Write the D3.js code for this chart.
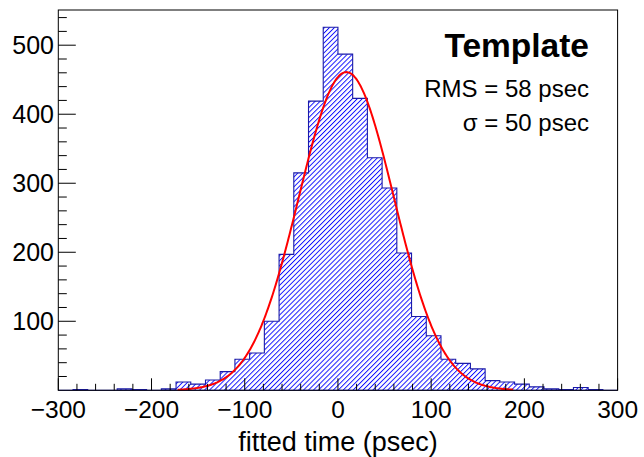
<!DOCTYPE html>
<html>
<head>
<meta charset="utf-8">
<script src="https://cdn.jsdelivr.net/npm/d3@7"></script>
<style>
  body { margin: 0; background: #fff; }
  svg { display: block; font-family: "Liberation Sans", Arial, sans-serif; }
</style>
</head>
<body>
<div id="chart"></div>
<script>
// histogram: 38 bins from -300 to 300 psec
var binLow = -300;
var binHigh = 300;
var counts = [0, 1, 0, 0, 2, 1, 0, 2, 12, 9,
  15, 27, 45, 54, 100, 197, 315, 419, 526, 487,
  423, 337, 293, 199, 107, 79, 45, 39, 31, 14,
  12, 9, 5, 2, 1, 4, 1, 0];

// gaussian fit
var fitAmp = 461;
var fitMean = 9;
var fitSigma = 51;
var fitRange = [-172, 188];

var xTicks = [-300, -200, -100, 0, 100, 200, 300];
var yTicks = [100, 200, 300, 400, 500];
var xTitle = "fitted time (psec)";
var titleText = "Template";
var infoLines = ["RMS = 58 psec", "\u03c3 = 50 psec"];

var width = 644;
var height = 457;
var padL = 58.3, padR = 617.6, padT = 10, padB = 390.3;

var svg = d3.select("#chart").append("svg")
  .attr("width", width)
  .attr("height", height);

var x = d3.scaleLinear().domain([binLow, binHigh]).range([padL, padR]);
var y = d3.scaleLinear().domain([0, 551]).range([padB, padT]);

// hatch pattern (ROOT style 3004-ish)
var defs = svg.append("defs");
defs.append("pattern")
  .attr("id", "hatch")
  .attr("patternUnits", "userSpaceOnUse")
  .attr("width", 3.5)
  .attr("height", 3.5)
  .attr("patternTransform", "rotate(45)")
  .append("line")
  .attr("x1", 0.5).attr("y1", 0)
  .attr("x2", 0.5).attr("y2", 3.5)
  .attr("stroke", "#0000ff")
  .attr("stroke-width", 0.9);

// histogram outline as steps
var bw = (binHigh - binLow) / counts.length;
var pts = [[binLow, 0]];
counts.forEach(function (c, i) {
  pts.push([binLow + i * bw, c]);
  pts.push([binLow + (i + 1) * bw, c]);
});
pts.push([binHigh, 0]);

var line = d3.line()
  .x(function (d) { return x(d[0]); })
  .y(function (d) { return y(d[1]); });

svg.append("path")
  .attr("d", line(pts) + "Z")
  .attr("fill", "url(#hatch)")
  .attr("stroke", "#1a1aa8")
  .attr("stroke-width", 1.1);

// fit curve
var fitPts = d3.range(fitRange[0], fitRange[1] + 0.5, 1).map(function (t) {
  return [t, fitAmp * Math.exp(-0.5 * Math.pow((t - fitMean) / fitSigma, 2))];
});
svg.append("path")
  .attr("d", line(fitPts))
  .attr("fill", "none")
  .attr("stroke", "#ff0000")
  .attr("stroke-width", 2);

// frame
svg.append("rect")
  .attr("x", padL).attr("y", padT)
  .attr("width", padR - padL).attr("height", padB - padT)
  .attr("fill", "none")
  .attr("stroke", "#000")
  .attr("stroke-width", 1);

// x axis ticks
var xMinor = d3.range(binLow, binHigh + 1, 20);
svg.append("g").selectAll("line")
  .data(xMinor)
  .enter()
  .append("line")
  .attr("x1", function (d) { return x(d); })
  .attr("x2", function (d) { return x(d); })
  .attr("y1", padB)
  .attr("y2", function (d) { return xTicks.indexOf(d) >= 0 ? padB - 12 : padB - 6.5; })
  .attr("stroke", "#000")
  .attr("stroke-width", 1);

svg.append("g").selectAll("text")
  .data(xTicks)
  .enter()
  .append("text")
  .attr("x", function (d) { return x(d); })
  .attr("y", 418)
  .attr("text-anchor", "middle")
  .style("font-size", "24.5px")
  .text(function (d) { return d < 0 ? "\u2212" + Math.abs(d) : d; });

// y axis ticks
var yMinor = d3.range(20, 551, 20);
svg.append("g").selectAll("line")
  .data(yMinor)
  .enter()
  .append("line")
  .attr("x1", padL)
  .attr("x2", function (d) { return d % 100 === 0 ? padL + 17.5 : padL + 8.5; })
  .attr("y1", function (d) { return y(d); })
  .attr("y2", function (d) { return y(d); })
  .attr("stroke", "#000")
  .attr("stroke-width", 1);

svg.append("g").selectAll("text")
  .data(yTicks)
  .enter()
  .append("text")
  .attr("x", 54)
  .attr("y", function (d) { return y(d) + 9; })
  .attr("text-anchor", "end")
  .style("font-size", "25px")
  .text(function (d) { return d; });

// axis title
svg.append("text")
  .attr("x", (padL + padR) / 2)
  .attr("y", 451)
  .attr("text-anchor", "middle")
  .style("font-size", "27px")
  .text(xTitle);

// labels
svg.append("text")
  .attr("x", 589)
  .attr("y", 57)
  .attr("text-anchor", "end")
  .style("font-size", "33.5px")
  .style("font-weight", "bold")
  .text(titleText);

svg.append("g").selectAll("text")
  .data(infoLines)
  .enter()
  .append("text")
  .attr("x", 589)
  .attr("y", function (d, i) { return 97 + i * 34; })
  .attr("text-anchor", "end")
  .style("font-size", "24px")
  .text(function (d) { return d; });
</script>
</body>
</html>
